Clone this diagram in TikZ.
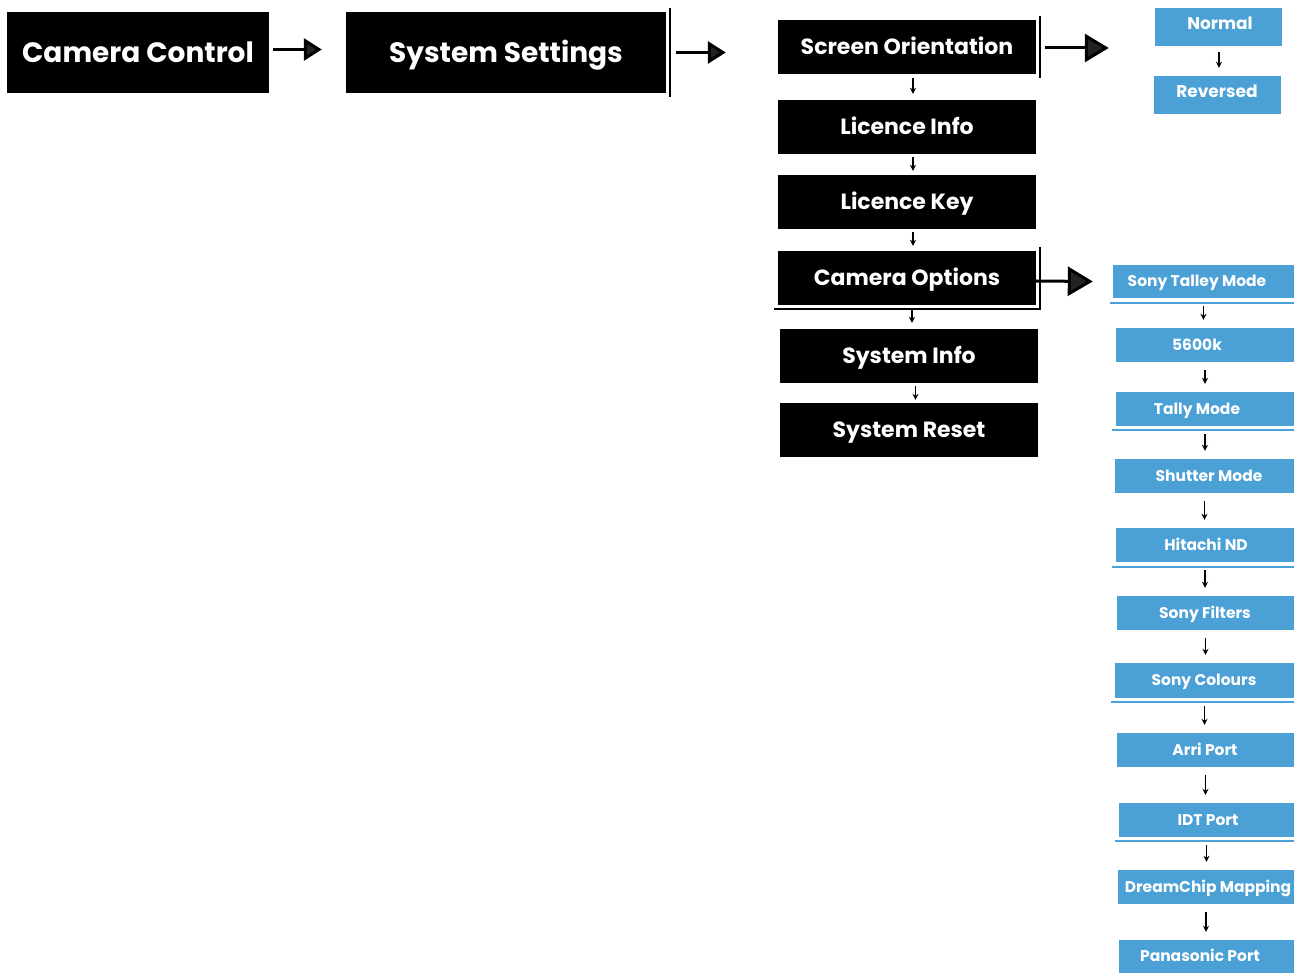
\documentclass[tikz,border=0pt]{standalone}
\usepackage{fontspec}
\setmainfont{Poppins}
\usetikzlibrary{arrows.meta}
\definecolor{menublue}{HTML}{4BA0D6}
\definecolor{tipgrey}{HTML}{222222}
\tikzset{
  blk/.style={fill=black, text=white, font=\bfseries\fontsize{22}{26}\selectfont, inner sep=0pt, text height=15.4pt, text depth=0pt},
  blkbig/.style={blk, font=\bfseries\fontsize{28}{32}\selectfont, text height=19.6pt},
  bbox/.style={fill=menublue, inner sep=0pt},
  btext/.style={text=white, font=\bfseries\fontsize{15.5}{18}\selectfont, inner sep=0pt, text height=10.9pt, text depth=0pt},
  bigtext/.style={btext, font=\bfseries\fontsize{17}{20}\selectfont, text height=11.9pt},
  bigarrow/.style={line width=3pt, -{Triangle[length=#1, width=#1+4pt, fill=tipgrey]}},
  bigarrow/.default=18pt,
  down/.style={line width=1.3pt, -{Stealth[length=6pt, width=6pt]}},
  rule/.style={line width=1.3pt, draw=black},
  brule/.style={line width=1.4pt, draw=menublue},
}
\begin{document}
\begin{tikzpicture}[x=1pt, y=-1pt]
\useasboundingbox (0,0) rectangle (1294,973);

% top level
\node[blkbig, minimum width=262pt, minimum height=81pt] (cc) at (138,52.5) {Camera Control};
\node[blkbig, minimum width=320pt, minimum height=81pt] (ss) at (506,52.5) {System Settings};
\draw[rule] (670,8) -- (670,97);

% system settings menu
\node[blk, minimum width=258pt, minimum height=54pt] (so) at (907,47) {Screen Orientation};
\node[blk, minimum width=258pt, minimum height=54pt] (li) at (907,127) {Licence Info};
\node[blk, minimum width=258pt, minimum height=54pt] (lk) at (907,202) {Licence Key};
\node[blk, minimum width=258pt, minimum height=54pt] (co) at (907,278) {Camera Options};
\node[blk, minimum width=258pt, minimum height=54pt] (si) at (909,356) {System Info};
\node[blk, minimum width=258pt, minimum height=54pt] (sr) at (909,430) {System Reset};
\draw[rule] (1040,16) -- (1040,78);
\draw[rule] (774,309) -- (1040,309) -- (1040,247);

% screen orientation choices
\node[bbox, minimum width=127pt, minimum height=38pt] (no) at (1218.5,27) {};
\node[bigtext] (not) at (1220,24) {Normal};
\node[bbox, minimum width=127pt, minimum height=38pt] (re) at (1217.5,95) {};
\node[bigtext] (ret) at (1217,92) {Reversed};

% camera options list
\node[bbox, minimum width=181pt, minimum height=33pt] (b1) at (1203.5,281.5) {};
\node[bbox, minimum width=178pt, minimum height=34pt] (b2) at (1205,345) {};
\node[bbox, minimum width=178pt, minimum height=34pt] (b3) at (1205,409) {};
\node[bbox, minimum width=179pt, minimum height=34pt] (b4) at (1204.5,476) {};
\node[bbox, minimum width=178pt, minimum height=34pt] (b5) at (1205,545) {};
\node[bbox, minimum width=177pt, minimum height=34pt] (b6) at (1205.5,613) {};
\node[bbox, minimum width=179pt, minimum height=35pt] (b7) at (1204.5,680.5) {};
\node[bbox, minimum width=177pt, minimum height=34pt] (b8) at (1205.5,750) {};
\node[bbox, minimum width=175pt, minimum height=34pt] (b9) at (1206.5,820) {};
\node[bbox, minimum width=176pt, minimum height=34pt] (b10) at (1206,887) {};
\node[bbox, minimum width=175pt, minimum height=33pt] (b11) at (1206.5,956.5) {};

\node[btext] (t1) at (1197,281.5) {Sony Talley Mode};
\node[btext] (t2) at (1197,345) {5600k};
\node[btext] (t3) at (1197,409) {Tally Mode};
\node[btext] (t4) at (1209,476) {Shutter Mode};
\node[btext] (t5) at (1206,545) {Hitachi ND};
\node[btext] (t6) at (1205,613) {Sony Filters};
\node[btext] (t7) at (1204,680.5) {Sony Colours};
\node[btext] (t8) at (1205,750) {Arri Port};
\node[btext] (t9) at (1208,820) {IDT Port};
\node[btext] (t10) at (1208,887) {DreamChip Mapping};
\node[btext] (t11) at (1200,956.5) {Panasonic Port};

\draw[brule] (1110,303) -- (1294,303);
\draw[brule] (1112,430) -- (1294,430);
\draw[brule] (1112,567) -- (1294,567);
\draw[brule] (1111,702) -- (1294,702);
\draw[brule] (1115,841) -- (1294,841);

% big connectors
\draw[bigarrow] ([xshift=4pt,yshift=3pt]cc.east) -- ([xshift=-24pt]ss.west |- 0,49.5);
\draw[bigarrow] ([xshift=10pt]ss.east) -- ([xshift=-52pt]so.west |- ss.east);
\draw[bigarrow=24pt] ([xshift=9pt,yshift=-1pt]so.east) -- ([xshift=-46pt]no.west |- 0,48);
\draw[bigarrow=25pt] (co.east |- 0,281) -- ([xshift=-20pt]b1.west);

% small connectors, system settings menu
\draw[down, shorten <=3.5pt, shorten >=6pt] ([xshift=6pt]so.south) -- ([xshift=6pt]li.north);
\draw[down, shorten <=3pt, shorten >=4pt] ([xshift=6pt]li.south) -- ([xshift=6pt]lk.north);
\draw[down, shorten <=3pt, shorten >=5pt] ([xshift=6pt]lk.south) -- ([xshift=6pt]co.north);
\draw[down, shorten <=4pt, shorten >=6pt] ([xshift=5pt]co.south) -- ([xshift=3pt]si.north);
\draw[down, shorten <=3pt, shorten >=3pt] ([xshift=6.5pt]si.south) -- ([xshift=6.5pt]sr.north);
\draw[down, shorten <=6pt, shorten >=8pt] ([xshift=0.5pt]no.south) -- ([xshift=1.5pt]re.north);

% small connectors, camera options list
\foreach \a/\b in {b1/b2, b2/b3, b3/b4, b4/b5, b5/b6, b6/b7, b7/b8, b8/b9, b9/b10, b10/b11}
  \draw[down, shorten <=8pt, shorten >=8pt] (\a.south) -- (\a.south |- \b.north);
\end{tikzpicture}
\end{document}
